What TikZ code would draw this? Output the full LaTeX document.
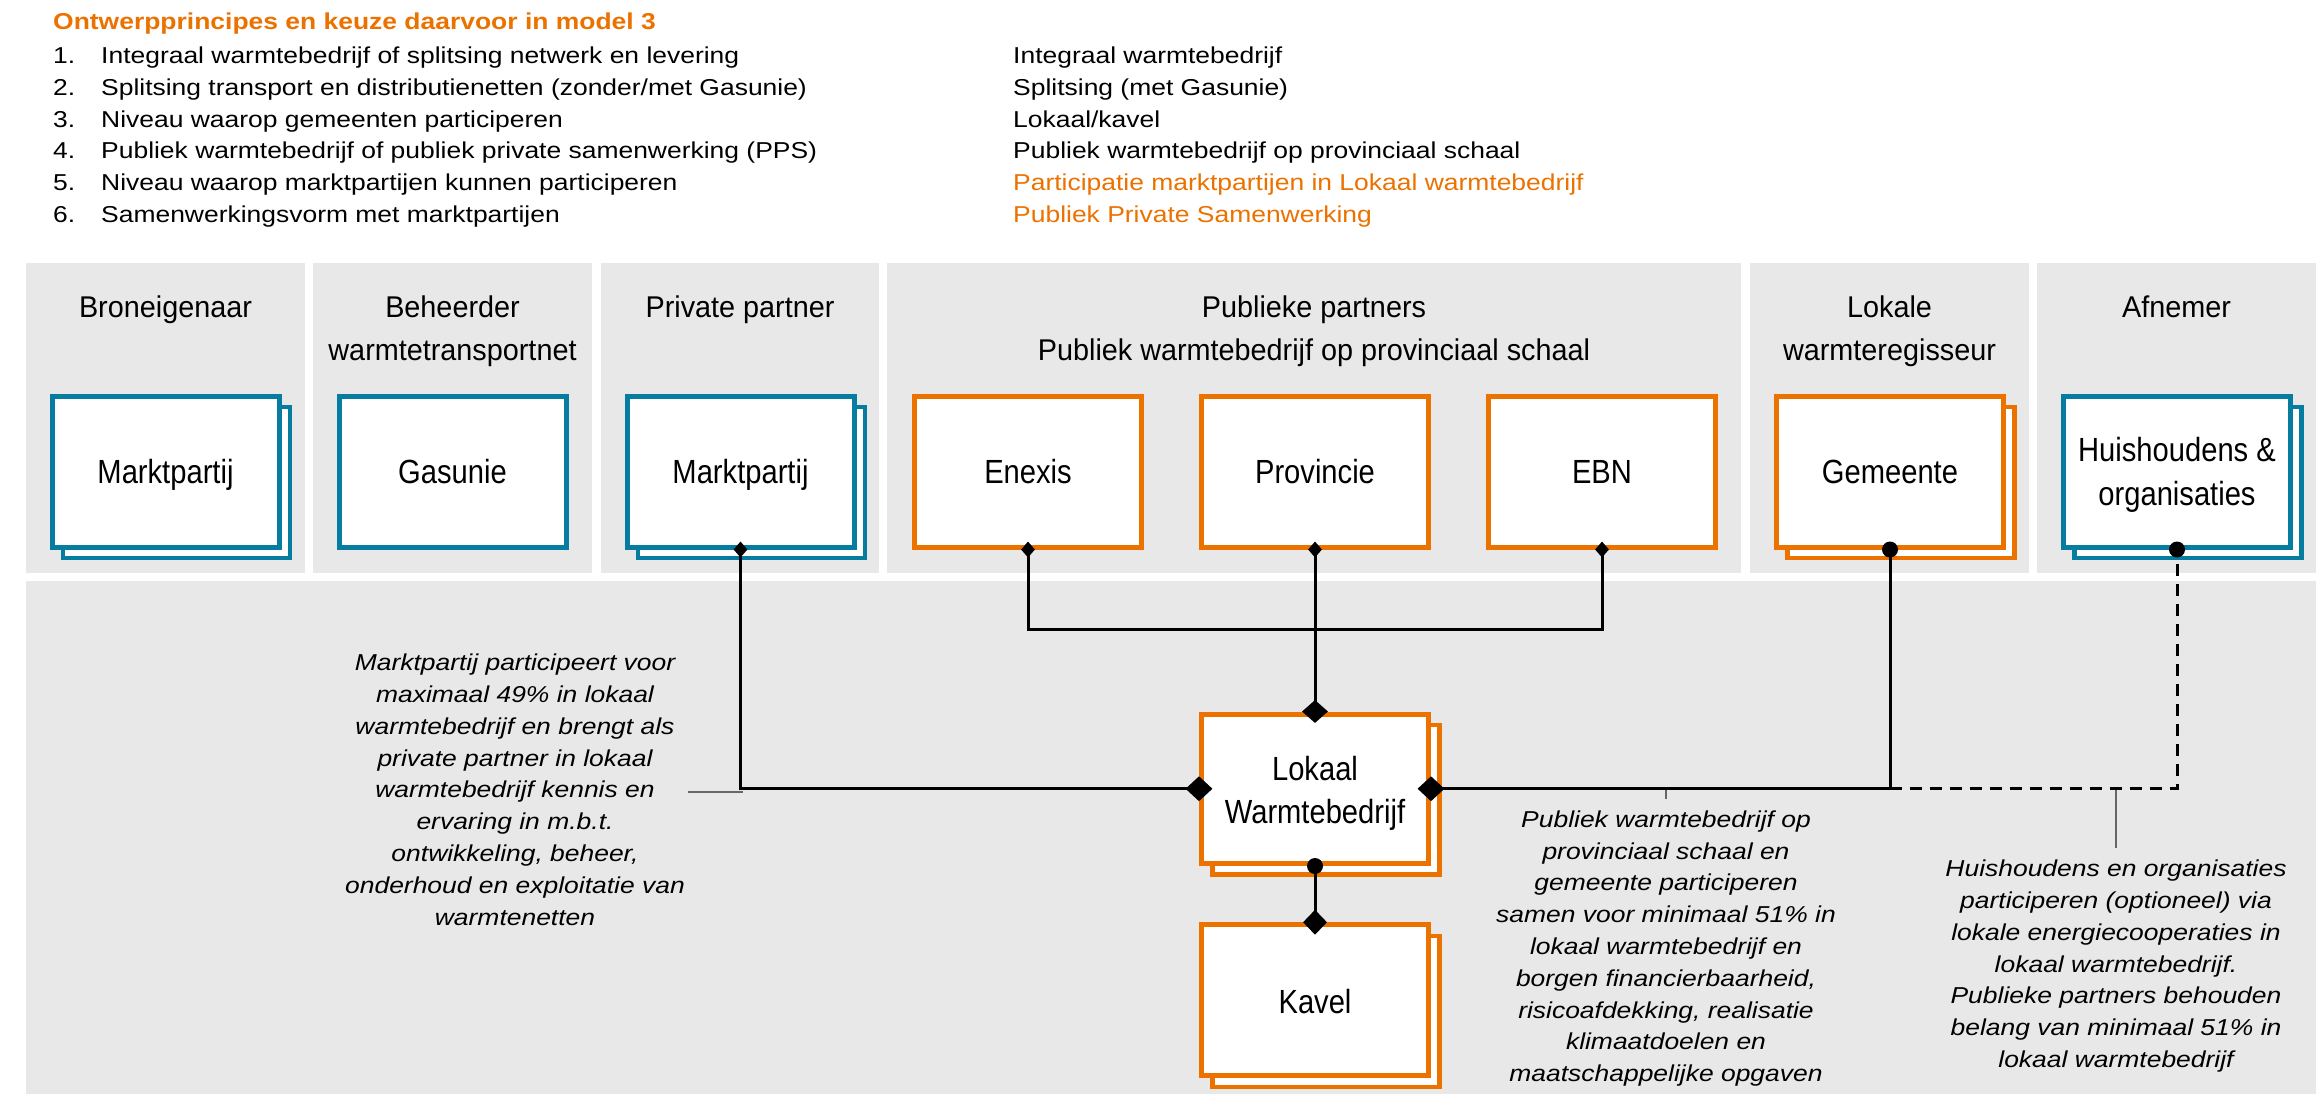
\documentclass[tikz,border=0pt]{standalone}
\usepackage{fontspec}
\setmainfont{Liberation Sans}
\newfontfamily\txtfont{Liberation Sans}[FakeStretch=1.15]
\newfontfamily\headfont{Liberation Sans}[FakeStretch=0.96]
\newfontfamily\lblfont{Liberation Sans}[FakeStretch=0.87]
\usetikzlibrary{shapes.geometric}
\definecolor{ora}{RGB}{236,114,0}
\definecolor{tea}{RGB}{6,124,160}
\definecolor{pgray}{RGB}{232,232,232}
\newcommand{\stackc}[1]{\begin{tabular}[t]{@{}c@{}}#1\end{tabular}}
\newcommand{\stackl}[1]{\begin{tabular}[t]{@{}l@{}}#1\end{tabular}}
\tikzset{
  ent/.style={draw=#1, line width=5pt, fill=white, minimum width=227pt, minimum height=151pt, inner sep=0pt},
  shd/.style={draw=#1, line width=4.5pt, fill=white, minimum width=227pt, minimum height=151pt, inner sep=0pt},
  lbl/.style={anchor=base, inner sep=0pt, font=\lblfont\fontsize{33.5}{43.3}\selectfont},
  head/.style={anchor=base, inner sep=0pt, font=\headfont\fontsize{30}{43}\selectfont},
  note/.style={anchor=base, inner sep=0pt, font=\txtfont\itshape\fontsize{23}{31.8}\selectfont},
  listtxt/.style={anchor=base west, inner sep=0pt, font=\txtfont\fontsize{23}{31.9}\selectfont},
  conn/.style={line width=3pt, draw=black},
  dconn/.style={conn, dash pattern=on 12pt off 8pt},
  leader/.style={line width=1.5pt, draw=black!60},
  dmd/.style={diamond, fill=black, inner sep=0pt},
  dot/.style={circle, fill=black, inner sep=0pt, minimum size=16pt},
}
\begin{document}
\begin{tikzpicture}[x=1pt,y=-1pt]
\useasboundingbox (0,0) rectangle (2324,1094);
\fill[white] (0,0) rectangle (2324,1094);

% header text
\node[listtxt, font=\txtfont\bfseries\fontsize{23}{28}\selectfont, text=ora] (title) at (53,30) {Ontwerpprincipes en keuze daarvoor in model 3};
\node[listtxt] (nums) at (53,63.3) {\stackl{1.\\2.\\3.\\4.\\5.\\6.}};
\node[listtxt] (items) at (101,63.3) {\stackl{Integraal warmtebedrijf of splitsing netwerk en levering\\Splitsing transport en distributienetten (zonder/met Gasunie)\\Niveau waarop gemeenten participeren\\Publiek warmtebedrijf of publiek private samenwerking (PPS)\\Niveau waarop marktpartijen kunnen participeren\\Samenwerkingsvorm met marktpartijen}};
\node[listtxt] (choices) at (1013,63.3) {\stackl{Integraal warmtebedrijf\\Splitsing (met Gasunie)\\Lokaal/kavel\\Publiek warmtebedrijf op provinciaal schaal\\\textcolor{ora}{Participatie marktpartijen in Lokaal warmtebedrijf}\\\textcolor{ora}{Publiek Private Samenwerking}}};

% panels
\fill[pgray] (26,263) rectangle (305,573);
\fill[pgray] (313,263) rectangle (592,573);
\fill[pgray] (601,263) rectangle (879,573);
\fill[pgray] (887,263) rectangle (1741,573);
\fill[pgray] (1750,263) rectangle (2029,573);
\fill[pgray] (2037,263) rectangle (2316,573);
\fill[pgray] (26,581) rectangle (2316,1094);

% headings
\node[head] (h1) at (165.5,317) {Broneigenaar};
\node[head] (h2) at (452.5,317) {\stackc{Beheerder\\warmtetransportnet}};
\node[head] (h3) at (740,317) {Private partner};
\node[head] (h4) at (1314,317) {\stackc{Publieke partners\\Publiek warmtebedrijf op provinciaal schaal}};
\node[head] (h5) at (1889.5,317) {\stackc{Lokale\\warmteregisseur}};
\node[head] (h6) at (2176.5,317) {Afnemer};

% boxes
\node[shd=tea] (s1) at (176.5,482.5) {};
\node[ent=tea] (b1) at (165.5,471.5) {};
\node[lbl] (t1) at (165.5,483.3) {Marktpartij};

\node[ent=tea] (b2) at (452.5,471.5) {};
\node[lbl] (t2) at (452.5,483.3) {Gasunie};

\node[shd=tea] (s3) at (751.5,482.5) {};
\node[ent=tea] (b3) at (740.5,471.5) {};
\node[lbl] (t3) at (740.5,483.3) {Marktpartij};

\node[ent=ora] (b4) at (1028,471.5) {};
\node[lbl] (t4) at (1028,483.3) {Enexis};

\node[ent=ora] (b5) at (1315,471.5) {};
\node[lbl] (t5) at (1315,483.3) {Provincie};

\node[ent=ora] (b6) at (1602,471.5) {};
\node[lbl] (t6) at (1602,483.3) {EBN};

\node[shd=ora] (s7) at (1901,482.5) {};
\node[ent=ora] (b7) at (1890,471.5) {};
\node[lbl] (t7) at (1890,483.3) {Gemeente};

\node[shd=tea] (s8) at (2188,482.5) {};
\node[ent=tea] (b8) at (2177,471.5) {};
\node[lbl] (t8) at (2177,461.7) {\stackc{Huishoudens \&\\organisaties}};

\node[shd=ora, minimum height=149.5pt] (slw) at (1326,799.75) {};
\node[ent=ora, minimum height=149.5pt] (lw) at (1315,788.75) {};
\node[lbl] (tlw) at (1315,780) {\stackc{Lokaal\\Warmtebedrijf}};

\node[shd=ora] (skv) at (1326,1011.25) {};
\node[ent=ora] (kv) at (1315,1000.25) {};
\node[lbl] (tkv) at (1315,1013) {Kavel};

% connectors
\coordinate (jn) at (1315,629);
\coordinate (jg) at (1890,788.75);
\draw[conn] (b3.south) |- (lw.west);
\draw[conn] (b4.south) |- (jn) -| (b6.south);
\draw[conn] (b5.south) -- (lw.north);
\draw[conn] (lw.east) -| (b7.south);
\draw[dconn] (jg) -| (b8.south);
\draw[conn] (lw.south) -- (kv.north);

% markers
\node[dmd, minimum width=14pt, minimum height=16pt] (m3) at (b3.south) {};
\node[dmd, minimum width=14pt, minimum height=16pt] (m4) at (b4.south) {};
\node[dmd, minimum width=14pt, minimum height=16pt] (m5) at (b5.south) {};
\node[dmd, minimum width=14pt, minimum height=16pt] (m6) at (b6.south) {};
\node[dmd, minimum width=26pt, minimum height=23pt] (mlt) at (lw.north) {};
\node[dmd, minimum width=27pt, minimum height=25pt] (mlw) at (lw.west) {};
\node[dmd, minimum width=27pt, minimum height=25pt] (mle) at (lw.east) {};
\node[dot] (mls) at (lw.south) {};
\node[dmd, minimum width=24pt, minimum height=25pt] (mkv) at (kv.north) {};
\node[dot] (m7) at (b7.south) {};
\node[dot] (m8) at (b8.south) {};

% leaders
\coordinate (la1) at (688,792);
\coordinate (la2) at (743,792);
\coordinate (lb1) at (1666,790);
\coordinate (lb2) at (1666,799);
\coordinate (lc1) at (2116,790);
\coordinate (lc2) at (2116,848);
\draw[leader] (la1) -- (la2);
\draw[leader] (lb1) -- (lb2);
\draw[leader] (lc1) -- (lc2);

% notes
\node[note] (nA) at (515,670.7) {\stackc{Marktpartij participeert voor\\maximaal 49\% in lokaal\\warmtebedrijf en brengt als\\private partner in lokaal\\warmtebedrijf kennis en\\ervaring in m.b.t.\\ontwikkeling, beheer,\\onderhoud en exploitatie van\\warmtenetten}};
\node[note] (nB) at (1666,827.3) {\stackc{Publiek warmtebedrijf op\\provinciaal schaal en\\gemeente participeren\\samen voor minimaal 51\% in\\lokaal warmtebedrijf en\\borgen financierbaarheid,\\risicoafdekking, realisatie\\klimaatdoelen en\\maatschappelijke opgaven}};
\node[note] (nC) at (2116,876.7) {\stackc{Huishoudens en organisaties\\participeren (optioneel) via\\lokale energiecooperaties in\\lokaal warmtebedrijf.\\Publieke partners behouden\\belang van minimaal 51\% in\\lokaal warmtebedrijf}};
\end{tikzpicture}
\end{document}
